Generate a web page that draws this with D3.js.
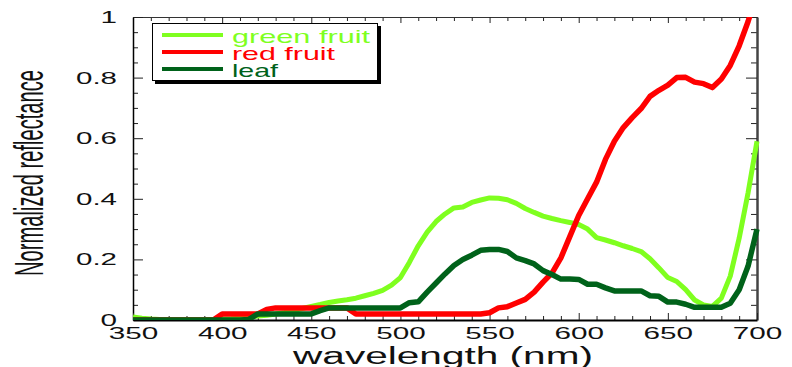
<!DOCTYPE html>
<html>
<head>
<meta charset="utf-8">
<script src="https://cdn.jsdelivr.net/npm/d3@7/dist/d3.min.js"></script>
<style>
  body { margin: 0; background: #fff; }
  svg { display: block; }
</style>
</head>
<body>
<div id="chart"></div>
<script>
const WIDTH = 792;
const HEIGHT = 367;
const LEFT = 133;
const RIGHT = 757;
const TOP = 17;
const BOTTOM = 320;

// wavelength (nm), sampled every 5 nm
const wavelengths = [
  350, 355, 360, 365, 370, 375, 380, 385, 390, 395,
  400, 405, 410, 415, 420, 425, 430, 435, 440, 445,
  450, 455, 460, 465, 470, 475, 480, 485, 490, 495,
  500, 505, 510, 515, 520, 525, 530, 535, 540, 545,
  550, 555, 560, 565, 570, 575, 580, 585, 590, 595,
  600, 605, 610, 615, 620, 625, 630, 635, 640, 645,
  650, 655, 660, 665, 670, 675, 680, 685, 690, 695,
  700
];

const greenFruit = [
  0.010, 0.006, 0.003, 0.002, 0.002, 0.002, 0.002, 0.002, 0.002, 0.002,
  0.003, 0.004, 0.006, 0.010, 0.013, 0.016, 0.020, 0.025, 0.031, 0.038,
  0.045, 0.051, 0.058, 0.063, 0.067, 0.072, 0.080, 0.088, 0.098, 0.115,
  0.140, 0.190, 0.245, 0.290, 0.325, 0.350, 0.370, 0.373, 0.388, 0.396,
  0.403, 0.402, 0.397, 0.385, 0.368, 0.355, 0.343, 0.335, 0.328, 0.322,
  0.315, 0.300, 0.272, 0.264, 0.255, 0.245, 0.236, 0.226, 0.202, 0.172,
  0.140, 0.127, 0.100, 0.066, 0.050, 0.045, 0.072, 0.145, 0.270, 0.420,
  0.590
];

const redFruit = [
  0, 0, 0, 0, 0, 0, 0, 0, 0, 0,
  0.020, 0.020, 0.020, 0.020, 0.020, 0.035, 0.040, 0.040, 0.040, 0.040,
  0.040, 0.040, 0.040, 0.040, 0.040, 0.020, 0.020, 0.020, 0.020, 0.020,
  0.020, 0.020, 0.020, 0.020, 0.020, 0.020, 0.020, 0.020, 0.020, 0.020,
  0.024, 0.040, 0.044, 0.056, 0.068, 0.092, 0.125, 0.155, 0.205, 0.275,
  0.345, 0.400, 0.455, 0.530, 0.590, 0.635, 0.668, 0.698, 0.738, 0.758,
  0.775, 0.800, 0.801, 0.785, 0.780, 0.767, 0.795, 0.840, 0.905, 0.985,
  1.080
];

const leaf = [
  0, 0, 0, 0, 0, 0, 0, 0, 0, 0,
  0, 0, 0, 0.002, 0.020, 0.020, 0.020, 0.020, 0.020, 0.020,
  0.020, 0.031, 0.040, 0.040, 0.040, 0.040, 0.040, 0.040, 0.040, 0.040,
  0.040, 0.057, 0.060, 0.092, 0.122, 0.152, 0.180, 0.200, 0.214, 0.230,
  0.233, 0.233, 0.226, 0.205, 0.196, 0.185, 0.163, 0.150, 0.135, 0.135,
  0.134, 0.118, 0.118, 0.106, 0.096, 0.096, 0.096, 0.096, 0.080, 0.078,
  0.059, 0.059, 0.052, 0.042, 0.042, 0.042, 0.042, 0.055, 0.100, 0.178,
  0.300
];

const seriesNames = ["green fruit", "red fruit", "leaf"];
const seriesColors = ["#7fff1f", "#ff0000", "#00621a"];

const xMajor = [350, 400, 450, 500, 550, 600, 650, 700];
const xTickLabels = ["350", "400", "450", "500", "550", "600", "650", "700"];
const yMajor = [0, 0.2, 0.4, 0.6, 0.8, 1];
const yTickLabels = ["0", "0.2", "0.4", "0.6", "0.8", "1"];

const xMinor = [];
for (let w = 350; w <= 700; w += 10) if (w % 50 !== 0) xMinor.push(w);
const yMinor = [];
for (let k = 0; k <= 20; k++) if (k % 4 !== 0) yMinor.push(k * 0.05);

const FONT = "'Liberation Sans', Arial, Helvetica, sans-serif";

const svg = d3.select("#chart")
  .append("svg")
  .attr("width", WIDTH)
  .attr("height", HEIGHT)
  .attr("viewBox", `0 0 ${WIDTH} ${HEIGHT}`);

const x = d3.scaleLinear().domain([350, 700]).range([LEFT, RIGHT]);
const y = d3.scaleLinear().domain([0, 1]).range([BOTTOM, TOP]);

// stretched look of the original labels
function labelWidth(s) {
  let w = 0;
  for (const c of s) w += (c === ".") ? 8 : 16.5;
  return w;
}
function stretchLabels(g) {
  g.selectAll(".tick text")
    .attr("font-family", FONT)
    .attr("font-size", 17)
    .attr("fill", "#111")
    .each(function () {
      const t = d3.select(this).text();
      d3.select(this)
        .attr("textLength", labelWidth(t))
        .attr("lengthAdjust", "spacingAndGlyphs");
    });
}

// minor ticks
function minorAxis(axis, values, size, transform) {
  svg.append("g")
    .attr("transform", transform)
    .call(axis.tickValues(values).tickSizeInner(size).tickSizeOuter(0).tickFormat(""))
    .call(g => g.select(".domain").remove())
    .call(g => g.selectAll(".tick line").attr("stroke", "#222"));
}
minorAxis(d3.axisBottom(x), xMinor, -4, `translate(0,${BOTTOM})`);
minorAxis(d3.axisTop(x), xMinor, -4, `translate(0,${TOP})`);
minorAxis(d3.axisLeft(y), yMinor, -5, `translate(${LEFT},0)`);
minorAxis(d3.axisRight(y), yMinor, -6, `translate(${RIGHT},0)`);

// major axes
svg.append("g")
  .attr("transform", `translate(0,${TOP})`)
  .call(d3.axisTop(x).tickValues(xMajor).tickSizeInner(-6).tickSizeOuter(0).tickFormat(""))
  .call(g => g.select(".domain").attr("stroke", "#333").attr("stroke-width", 1.2))
  .call(g => g.selectAll(".tick line").attr("stroke", "#222"));

svg.append("g")
  .attr("transform", `translate(${RIGHT},0)`)
  .call(d3.axisRight(y).tickValues(yMajor).tickSizeInner(-11).tickSizeOuter(0).tickFormat(""))
  .call(g => g.select(".domain").attr("stroke", "#444").attr("stroke-width", 2.5))
  .call(g => g.selectAll(".tick line").attr("stroke", "#222"));

svg.append("g")
  .attr("transform", `translate(${LEFT},0)`)
  .call(d3.axisLeft(y).tickValues(yMajor).tickSizeInner(-10).tickSizeOuter(0).tickPadding(16)
    .tickFormat((d, i) => yTickLabels[i]))
  .call(g => g.select(".domain").attr("stroke", "#000").attr("stroke-width", 1.5))
  .call(g => g.selectAll(".tick line").attr("stroke", "#222"))
  .call(stretchLabels);

svg.append("g")
  .attr("transform", `translate(0,${BOTTOM})`)
  .call(d3.axisBottom(x).tickValues(xMajor).tickSizeInner(-7).tickSizeOuter(0).tickPadding(7)
    .tickFormat((d, i) => xTickLabels[i]))
  .call(g => g.select(".domain").attr("stroke", "#000").attr("stroke-width", 2))
  .call(g => g.selectAll(".tick line").attr("stroke", "#222"))
  .call(stretchLabels);

// curves
svg.append("clipPath")
  .attr("id", "plot-clip")
  .append("rect")
  .attr("x", LEFT)
  .attr("y", TOP)
  .attr("width", RIGHT - LEFT + 4)
  .attr("height", BOTTOM - TOP);

const allSeries = [greenFruit, redFruit, leaf];
const line = d3.line()
  .x((d, i) => x(wavelengths[i]))
  .y(d => y(d));

svg.append("g")
  .attr("clip-path", "url(#plot-clip)")
  .selectAll("path")
  .data(allSeries)
  .join("path")
  .attr("d", line)
  .attr("fill", "none")
  .attr("stroke", (d, i) => seriesColors[i])
  .attr("stroke-width", (d, i) => i === 0 ? 5 : 5.5)
  .attr("stroke-linejoin", "round");

// legend
const legend = svg.append("g");
legend.append("rect")
  .attr("x", 155).attr("y", 26)
  .attr("width", 226).attr("height", 58)
  .attr("fill", "#000");
legend.append("rect")
  .attr("x", 152.5).attr("y", 23.5)
  .attr("width", 225).attr("height", 57)
  .attr("fill", "#fff")
  .attr("stroke", "#000")
  .attr("stroke-width", 1);

const legendWidths = [138, 103, 46];
seriesNames.forEach((name, i) => {
  const ly = 35 + i * 17;
  legend.append("line")
    .attr("x1", 162).attr("x2", 223)
    .attr("y1", ly).attr("y2", ly)
    .attr("stroke", seriesColors[i])
    .attr("stroke-width", 4);
  legend.append("text")
    .attr("x", 232)
    .attr("y", ly + 7.5)
    .attr("font-family", FONT)
    .attr("font-size", 19)
    .attr("fill", seriesColors[i])
    .attr("textLength", legendWidths[i])
    .attr("lengthAdjust", "spacingAndGlyphs")
    .text(name);
});

// axis titles
svg.append("text")
  .attr("transform", "translate(43,173) rotate(-90)")
  .attr("text-anchor", "middle")
  .attr("font-family", "'Liberation Sans Narrow', 'Liberation Sans', Arial, sans-serif")
  .attr("font-size", 41)
  .attr("fill", "#111")
  .attr("textLength", 206)
  .attr("lengthAdjust", "spacingAndGlyphs")
  .text("Normalized reflectance");

svg.append("text")
  .attr("x", 443)
  .attr("y", 364)
  .attr("text-anchor", "middle")
  .attr("font-family", FONT)
  .attr("font-size", 23)
  .attr("fill", "#111")
  .attr("textLength", 300)
  .attr("lengthAdjust", "spacingAndGlyphs")
  .text("wavelength (nm)");
</script>
</body>
</html>
